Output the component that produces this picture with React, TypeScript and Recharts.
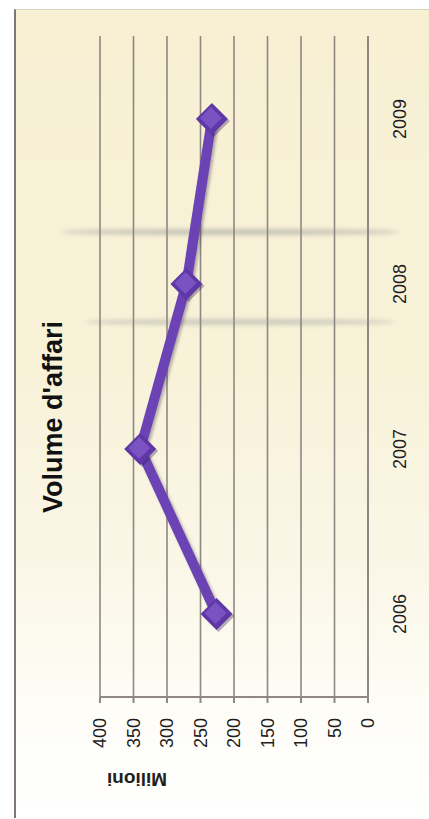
import React from 'react'
import { LineChart, Line, XAxis, YAxis, CartesianGrid, Label } from 'recharts'

const YEARS = ['2006', '2007', '2008', '2009']
const VOLUME = [226, 340, 271, 233]
const VALUE_TICKS = [0, 50, 100, 150, 200, 250, 300, 350, 400]
const BOUNDARY_TICKS = [0, 1, 2, 3, 4]

const data = YEARS.map((year, i) => ({ year, volume: VOLUME[i] }))

const FONT = "'Liberation Sans', Arial, sans-serif"
const GRID = '#8e8782'

const Diamond = (props: any) => {
  const { cx, cy, index } = props
  if (cx == null || cy == null) return null
  const r = 16
  const pts = (s: number, dx = 0, dy = 0) =>
    `${cx + dx},${cy - s + dy} ${cx + s + dx},${cy + dy} ${cx + dx},${cy + s + dy} ${cx - s + dx},${cy + dy}`
  return (
    <g key={`dot-${index}`}>
      <polygon points={pts(r, -2, 2)} fill="#2e1d55" opacity={0.35} />
      <polygon points={pts(r)} fill="#5f37a6" />
      <polygon points={pts(r - 5, 1, -1)} fill="#7a52c2" />
    </g>
  )
}

const MilioniLabel = (props: any) => {
  const { viewBox } = props
  const x = viewBox.x + 40
  const y = viewBox.y + 37
  return (
    <text
      x={x}
      y={y}
      transform={`rotate(-90, ${x}, ${y})`}
      textAnchor="middle"
      dominantBaseline="central"
      fontFamily={FONT}
      fontWeight="bold"
      fontSize={19}
      fill="#1e1e1e"
    >
      Milioni
    </text>
  )
}

export default function App() {
  return (
    <div
      style={{
        position: 'relative',
        width: 429,
        height: 819,
        overflow: 'hidden',
        background: '#ffffff',
      }}
    >
      <style>{`body{margin:0} .vol-line{filter:drop-shadow(-2px 2px 1.5px rgba(40,25,70,0.35))}`}</style>
      <div
        style={{
          position: 'absolute',
          left: 14,
          top: 9,
          width: 415,
          height: 808,
          borderLeft: '2px solid #7f7675',
          borderTop: '1px solid #d9d1b8',
          background:
            'linear-gradient(to bottom, #f7f0d3 0%, #f8f2d9 45%, #fbf7e8 70%, #fefdf8 88%, #ffffff 100%)',
        }}
      />
      <div
        style={{
          position: 'absolute',
          left: 60,
          top: 229,
          width: 340,
          height: 6,
          borderRadius: '50%',
          background: 'rgba(110,115,125,0.35)',
          filter: 'blur(2px)',
        }}
      />
      <div
        style={{
          position: 'absolute',
          left: 85,
          top: 319,
          width: 310,
          height: 6,
          borderRadius: '50%',
          background: 'rgba(110,115,125,0.3)',
          filter: 'blur(2px)',
        }}
      />
      <div
        style={{
          position: 'absolute',
          left: 14,
          top: 819,
          width: 810,
          height: 415,
          transform: 'rotate(-90deg)',
          transformOrigin: '0 0',
        }}
      >
        <div
          style={{
            position: 'absolute',
            left: 0,
            top: 26,
            width: 804,
            textAlign: 'center',
            fontFamily: FONT,
            fontWeight: 'bold',
            fontSize: 27,
            lineHeight: '27px',
            color: '#111',
          }}
        >
          Volume d'affari
        </div>
        <LineChart
          width={810}
          height={415}
          data={data}
          margin={{ top: 86, right: 27, bottom: 59, left: 0 }}
        >
          <CartesianGrid vertical={false} stroke={GRID} strokeWidth={1.6} />
          <XAxis
            dataKey="year"
            height={1}
            padding={{ left: 83, right: 83 }}
            axisLine={{ stroke: GRID, strokeWidth: 2 }}
            tickLine={false}
            tickSize={0}
            tickMargin={25}
            tick={{ fontSize: 18, fontFamily: FONT, fill: '#1e1e1e' }}
          />
          <XAxis
            xAxisId="bounds"
            type="number"
            domain={[0, 4]}
            ticks={BOUNDARY_TICKS}
            height={1}
            axisLine={false}
            tick={false}
            tickSize={5}
            tickLine={{ stroke: GRID, strokeWidth: 2 }}
          />
          <YAxis
            width={122}
            domain={[0, 400]}
            ticks={VALUE_TICKS}
            interval={0}
            axisLine={{ stroke: GRID, strokeWidth: 2 }}
            tickLine={{ stroke: GRID, strokeWidth: 2 }}
            tickSize={6}
            tickMargin={15}
            tick={{ fontSize: 18, fontFamily: FONT, fill: '#1e1e1e' }}
          >
            <Label content={<MilioniLabel />} />
          </YAxis>
          <Line
            className="vol-line"
            dataKey="volume"
            stroke="#6b43b5"
            strokeWidth={10}
            strokeLinejoin="round"
            dot={(p: any) => <Diamond key={`d-${p.index}`} {...p} />}
            activeDot={false}
            isAnimationActive={false}
          />
        </LineChart>
      </div>
    </div>
  )
}
